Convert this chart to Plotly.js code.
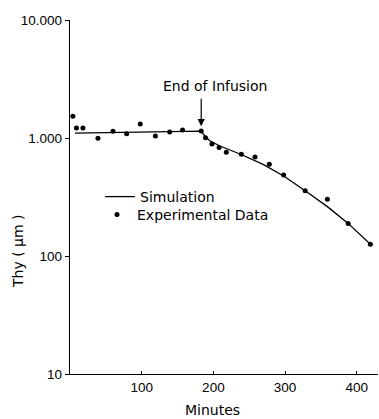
<!DOCTYPE html>
<html>
<head>
<meta charset="utf-8">
<script src="https://cdn.plot.ly/plotly-3.0.1.min.js"></script>
<style>html,body{margin:0;padding:0;background:#fff;}#chart{width:379px;height:419px;}</style>
</head>
<body>
<div id="chart"></div>
<script>
// Experimental data (minutes, Thy in µm)
const expMinutes = [4, 9, 18, 39, 60, 79, 98, 119, 139, 157, 183, 189, 198, 208, 218, 239, 258, 278, 298, 328, 359, 388, 419];
const expThy = [1530, 1215, 1215, 995, 1140, 1085, 1315, 1040, 1125, 1170, 1145, 1005, 890, 830, 757, 728, 690, 600, 486, 357, 302, 189, 126];

// Simulation curve
const simMinutes = [7, 60, 120, 183, 188, 195, 209, 238, 270, 298, 328, 359, 388, 419];
const simThy = [1100, 1115, 1130, 1145, 1040, 948, 855, 728, 595, 476, 357, 262, 189, 126];

// Axis ticks
const yTickVals = [10, 100, 1000, 10000];
const yTickText = ["10", "100", "1.000", "10.000"];
const xTickVals = [100, 200, 300, 400];
const xTickText = ["100", "200", "300", "400"];

const infusionEnd = 183;

const font = {family: "DejaVu Sans, sans-serif", size: 14, color: "#000"};
const tickFont = {family: "Liberation Sans, Arial, sans-serif", size: 13.5, color: "#000"};

const traces = [
  {x: simMinutes, y: simThy, type: "scatter", mode: "lines", name: "Simulation",
   line: {color: "#000", width: 1.3}, legend: "legend"},
  {x: expMinutes, y: expThy, type: "scatter", mode: "markers", name: "Experimental Data",
   marker: {color: "#000", size: 5}, legend: "legend2"}
];

const pw = 379 - 70 - 1, ph = 419 - 20 - 45;
const px2x = p => (p - 70) / pw;
const py2y = p => (419 - 45 - p) / ph;

const legendBase = {xanchor: "left", yanchor: "middle", bgcolor: "rgba(0,0,0,0)",
                    font: font, itemwidth: 30, borderwidth: 0};

const layout = {
  width: 379, height: 419,
  margin: {l: 70, r: 1, t: 20, b: 45},
  paper_bgcolor: "#fff", plot_bgcolor: "#fff",
  font: font,
  showlegend: true,
  legend: Object.assign({x: px2x(100), y: py2y(197)}, legendBase),
  legend2: Object.assign({x: px2x(97), y: py2y(215)}, legendBase),
  xaxis: {range: [0, 429.6], showgrid: false, zeroline: false, showline: true, linecolor: "#000", linewidth: 1.3,
          ticks: "inside", ticklen: 3, tickcolor: "#000", tickvals: xTickVals, ticktext: xTickText,
          tickfont: tickFont, mirror: false},
  yaxis: {type: "log", range: [1, 4], showgrid: false, zeroline: false, showline: true, linecolor: "#000", linewidth: 1.3,
          ticks: "outside", ticklen: 4, tickcolor: "#000", tickvals: yTickVals, ticktext: yTickText,
          tickfont: tickFont},
  annotations: [
    {x: infusionEnd, y: 3.1, xref: "x", yref: "y", text: "", showarrow: true,
     arrowhead: 2, arrowsize: 1.2, arrowwidth: 1.2, arrowcolor: "#000", ax: 0, ay: -29},
    {x: px2x(215), y: py2y(86), xref: "paper", yref: "paper", xanchor: "center", yanchor: "middle",
     text: "End of Infusion", showarrow: false, font: font},
    {x: px2x(212), y: py2y(410), xref: "paper", yref: "paper", xanchor: "center", yanchor: "middle",
     text: "Minutes", showarrow: false, font: font},
    {x: px2x(18), y: py2y(251), xref: "paper", yref: "paper", xanchor: "center", yanchor: "middle",
     text: "Thy ( μm )", showarrow: false, font: font, textangle: -90}
  ]
};

Plotly.newPlot("chart", traces, layout, {staticPlot: true, displayModeBar: false});
</script>
</body>
</html>
